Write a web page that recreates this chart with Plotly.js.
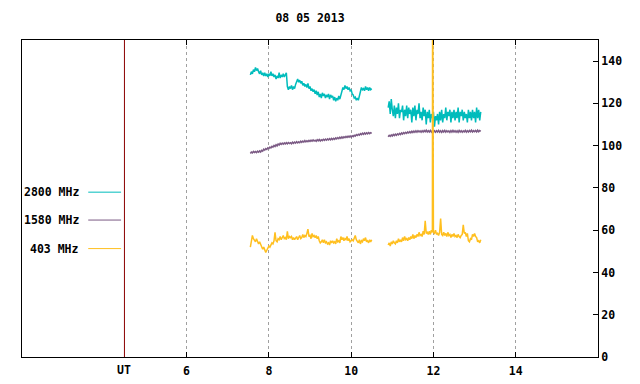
<!DOCTYPE html>
<html>
<head>
<meta charset="utf-8">
<script src="https://cdn.plot.ly/plotly-3.0.1.min.js"></script>
<style>
  html, body { margin: 0; padding: 0; background: #fff; }
  #chart { width: 640px; height: 384px; }
</style>
</head>
<body>
<div id="chart"></div>
<script>
// ---------- data ----------
const chartTitle = "08 05 2013";
const seriesNames = ["2800 MHz", "1580 MHz", "403 MHz"];
const seriesColors = ["#00bcbc", "#7b5a84", "#ffbf1f"];

// time (UT hours); the null-valued sample at 10.70 separates the two observing sessions
const timeUT = [
  7.55,7.575,7.6,7.625,7.65,7.675,7.7,7.725,
  7.75,7.775,7.8,7.825,7.85,7.875,7.9,7.925,
  7.95,7.975,8,8.025,8.05,8.075,8.1,8.125,
  8.15,8.175,8.2,8.225,8.25,8.275,8.3,8.325,
  8.35,8.375,8.4,8.425,8.45,8.475,8.5,8.525,
  8.55,8.575,8.6,8.625,8.65,8.675,8.7,8.725,
  8.75,8.775,8.8,8.825,8.85,8.875,8.9,8.925,
  8.95,8.975,9,9.025,9.05,9.075,9.1,9.125,
  9.15,9.175,9.2,9.225,9.25,9.275,9.3,9.325,
  9.35,9.375,9.4,9.425,9.45,9.475,9.5,9.525,
  9.55,9.575,9.6,9.625,9.65,9.675,9.7,9.725,
  9.75,9.775,9.8,9.825,9.85,9.875,9.9,9.925,
  9.95,9.975,10,10.025,10.05,10.075,10.1,10.125,
  10.15,10.175,10.2,10.225,10.25,10.275,10.3,10.325,
  10.35,10.375,10.4,10.425,10.45,10.475,10.5,
  10.7,
  10.9,10.925,10.95,10.975,11,11.025,11.05,11.075,
  11.1,11.125,11.15,11.175,11.2,11.225,11.25,11.275,
  11.3,11.325,11.35,11.375,11.4,11.425,11.45,11.475,
  11.5,11.525,11.55,11.575,11.6,11.625,11.65,11.675,
  11.7,11.725,11.75,11.775,11.8,11.825,11.85,11.875,
  11.9,11.925,11.95,11.975,11.98,12,12.025,12.05,12.075,
  12.1,12.125,12.15,12.175,12.2,12.225,12.25,12.275,
  12.3,12.325,12.35,12.375,12.4,12.425,12.45,12.475,
  12.5,12.525,12.55,12.575,12.6,12.625,12.65,12.675,
  12.7,12.725,12.75,12.775,12.8,12.825,12.85,12.875,
  12.9,12.925,12.95,12.975,13,13.025,13.05,13.075,
  13.1,13.125,13.15
];

const flux2800 = [
  133.5,135,134,136,135,137,135.5,136.5,
  135,134,135.5,133.5,134.5,133,134.5,133,
  134,132.5,134,133,135,133,134,132.5,
  133.5,131.5,133,132,134.5,132,133.5,132.5,
  134,132.5,133.5,134.5,128,126.5,128,127,
  128.5,126.5,128,127,129,130.5,131.5,130,
  131,129.5,130.5,128.5,129.5,128,129,127.5,
  129.5,127,128,126,127,125.5,126.5,124.5,
  126,124,125.5,123,124.5,122.5,125,123.5,
  124.5,122.5,124,123,124.5,122,124,123,
  123.5,121.5,123,121,122.5,121.5,123.5,122,
  124,125.5,127.5,126.5,128.5,127,128,126.5,
  127.5,126,126.5,124.5,124,122.5,123,121.5,
  122.5,121.5,124,126,127.5,126.5,127,126,
  128,126.5,127.5,126,127.5,126.5,127,
  null,
  118,121,115,122,117,114,119,113,
  118,115,120,113,117,116,119,112,
  117,114,119,113,118,115,117,111,
  118,114,119,112,117,115,120,113,
  116,112,118,114,117,110,116,113,
  117,111,115,113,114,116,109,114,112,
  115,110,116,112,117,111,115,113,
  118,112,116,114,117,111,116,113,
  117,112,116,113,118,111,116,114,
  117,112,116,113,115,111,117,113,
  116,112,117,113,116,111,118,113,
  117,112,116
];

const flux1580 = [
  96.3,97,96.6,97.3,96.8,97.2,96.7,97.4,
  96.9,97.5,97,97.8,97.4,98.3,97.9,98.6,
  98.2,99,98.6,99.3,98.9,99.7,99.3,100.1,
  99.6,100.4,99.9,100.8,100.3,101.1,100.6,101.2,
  100.7,101.3,100.8,101.4,100.9,101.5,101,101.4,
  100.9,101.6,101.1,101.7,101.2,101.9,101.3,101.8,
  101.4,102.1,101.6,102.2,101.7,102.4,101.8,102.3,
  101.9,102.5,102,102.6,102.1,102.7,102.2,102.6,
  102.1,102.8,102.3,102.9,102.2,102.8,102.4,103,
  102.5,103.1,102.6,103.2,102.7,103.3,102.8,103.4,
  102.9,103.5,103,103.7,103.2,103.8,103.3,104,
  103.5,104.1,103.6,104.2,103.8,104.4,103.9,104.5,
  104,104.6,104.1,104.7,104.3,104.9,104.5,105.2,
  104.8,105.4,105,105.7,105.2,105.9,105.4,106,
  105.5,106.1,105.6,106.2,105.7,106.1,105.8,
  null,
  104.2,104.9,104.4,105.1,104.6,105.3,104.8,105.4,
  104.9,105.6,105.1,105.8,105.3,106,105.5,106.2,
  105.7,106.3,105.8,106.5,106,106.6,106.1,106.8,
  106.2,106.9,106.3,107,106.4,107.1,106.5,107,
  106.4,107.1,106.5,107.2,106.6,107.3,106.5,107.1,
  106.5,107.2,106.4,107.1,106.8,106.3,107,106.4,107.1,
  106.5,107.2,106.4,107,106.3,107.1,106.5,107.2,
  106.4,107.1,106.5,107,106.3,107.1,106.4,107.2,
  106.5,107.1,106.4,107,106.3,107.2,106.5,107.1,
  106.4,107,106.5,107.2,106.4,107.1,106.5,107.2,
  106.6,107.3,106.5,107.1,106.6,107.2,106.5,107.3,
  106.6,107.2,106.8
];

const flux403 = [
  52,55.5,57.5,56,55.5,54.5,56,54.5,
  53.5,54.5,53,52,51,52,50,49.5,
  50.5,51.5,52.5,52,53.5,54,53.5,55,
  59,55,54.5,56,55.5,57,55.5,56.5,
  57.5,56,56.5,55.5,59.5,56,57,56.5,
  57,55.5,56.5,55.5,56,57,55.5,56.5,
  57.5,56,56.5,58,56.5,57.5,57,58.5,
  60.5,57,57.5,56,58.5,57,57.5,56.5,
  57.5,56,57,55,54,54.5,55.5,54,
  55.5,54,54.5,53.5,54,53,55,54,
  55,54,54.5,53.5,56,54.5,55,54,
  57,55.5,56.5,55,56,55.5,57,55,
  56,54.5,55,55.5,55,56,57.5,55.5,
  55,54,55.5,53.5,55,54.5,56,55,
  56.5,54.5,55,54,55.5,54.5,55.5,
  null,
  53,54,52.5,54.5,53.5,55,54,53.5,
  55,54,56,54.5,55.5,54.5,56.5,55,
  57,55.5,56,55,56.5,55.5,57,56,
  58,56,57.5,56.5,58,57,59,57.5,
  58,57,59.5,58,64.5,58.5,59,58,
  59.5,58,60,59,190,59,58.5,60,58,
  58.5,57.5,59,65.5,58,57.5,59,57.5,
  58.5,57,59,57.5,58,56.5,58,57,
  58.5,57,57.5,56.5,58,57,56.5,57.5,
  58,62.5,58.5,59,57,58.5,55,54.5,
  56,55.5,58,57,58.5,57,56.5,54.5,
  55,54,55.5
];

const xTickVals = [6, 8, 10, 12, 14];
const xTickText = ["6", "8", "10", "12", "14"];
const yTickVals = [0, 20, 40, 60, 80, 100, 120, 140];
const utHour = 4.49;
const utLabel = "UT";

// ---------- chart ----------
const fontFam = "DejaVu Sans Mono, Liberation Mono, monospace";
const labelFont = { family: fontFam, size: 11.5, color: "#000", weight: "bold" };
const allSeries = [flux2800, flux1580, flux403];

const traces = allSeries.map((ys, i) => ({
  type: "scatter",
  mode: "lines",
  x: timeUT,
  y: ys,
  name: seriesNames[i],
  line: { color: seriesColors[i], width: 1.5 },
  connectgaps: false,
  hoverinfo: "skip"
}));

// manual legend (text left, line sample right)
const legendRowsY = [0.52, 0.432, 0.342];
const annotations = seriesNames.map((n, i) => ({
  xref: "paper", yref: "paper",
  x: 0.102, y: legendRowsY[i],
  xanchor: "right", yanchor: "middle",
  text: n, showarrow: false,
  font: labelFont
}));
annotations.push({
  xref: "x", yref: "paper", x: utHour, y: 0,
  xanchor: "center", yanchor: "top", yshift: -4,
  text: utLabel, showarrow: false, font: labelFont
});
const shapes = seriesNames.map((n, i) => ({
  type: "line", xref: "paper", yref: "paper",
  x0: 0.115, x1: 0.172, y0: legendRowsY[i], y1: legendRowsY[i],
  line: { color: seriesColors[i], width: 1 }
}));
shapes.push({
  type: "line", xref: "x", yref: "paper",
  x0: utHour, x1: utHour, y0: 0, y1: 1,
  line: { color: "#8b0000", width: 1 }
});

const layout = {
  width: 640, height: 384,
  margin: { l: 22, r: 42, t: 40, b: 27, pad: 0 },
  paper_bgcolor: "#fff",
  plot_bgcolor: "#fff",
  showlegend: false,
  title: {
    text: chartTitle,
    font: labelFont,
    xref: "paper", x: 0.5, xanchor: "center",
    yref: "container", y: 0.953, yanchor: "middle"
  },
  xaxis: {
    range: [2, 16],
    tickvals: xTickVals,
    ticktext: xTickText,
    ticks: "inside", ticklen: 5, tickwidth: 1, tickcolor: "#000",
    showline: true, linecolor: "#000", linewidth: 1, mirror: "ticks",
    showgrid: true, gridcolor: "#a0a0a0", gridwidth: 1, griddash: "dot",
    zeroline: false,
    ticklabelstandoff: 3,
    tickfont: labelFont
  },
  yaxis: {
    range: [0, 150],
    side: "right",
    tickvals: yTickVals,
    ticks: "inside", ticklen: 5, tickwidth: 1, tickcolor: "#000",
    showline: true, linecolor: "#000", linewidth: 1, mirror: true,
    showgrid: false, zeroline: false,
    tickfont: labelFont
  },
  annotations: annotations,
  shapes: shapes
};

Plotly.newPlot("chart", traces, layout, { staticPlot: true, displayModeBar: false });
</script>
</body>
</html>
